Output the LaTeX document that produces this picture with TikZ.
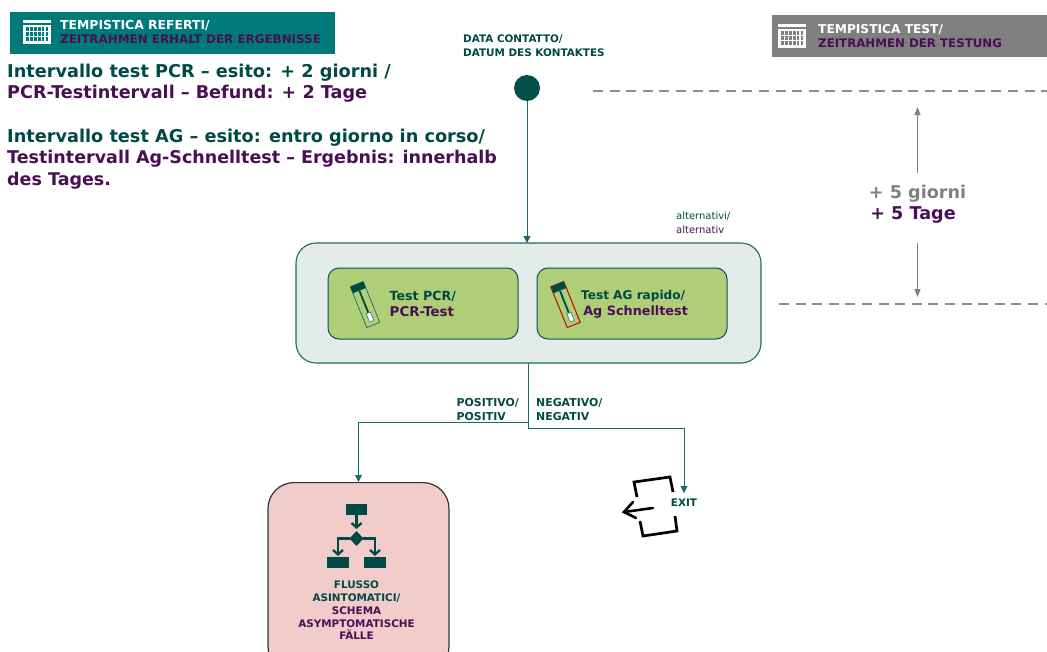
\documentclass[tikz,border=0pt]{standalone}
\usepackage{fontspec}
\setmainfont{DejaVu Sans}[BoldFont={DejaVu Sans Bold}]
\usetikzlibrary{arrows.meta}
\definecolor{dteal}{HTML}{004A45}
\definecolor{mteal}{HTML}{007A78}
\definecolor{lineteal}{HTML}{1B6B69}
\definecolor{dpurple}{HTML}{4A0E55}
\definecolor{gfill}{HTML}{AFCE78}
\definecolor{panel}{HTML}{E4ECEA}
\definecolor{pinkf}{HTML}{F2CBCB}
\definecolor{gbar}{HTML}{7F7F7F}
\newcommand{\fs}[1]{\fontsize{#1}{#1}\selectfont}
\newcommand{\calicon}[3]{%
 \begin{scope}[shift={(#1,#2)}]
  \fill[white] (0,0) rectangle (28,3);
  \fill[white] (0,5) rectangle (28,24);
  \foreach \i in {0,...,5}{\foreach \j in {0,1,2}{
    \fill[#3] (3+\i*3.9,7+\j*5.2) rectangle ++(2.8,4);}}
 \end{scope}}
\newcommand{\tube}[4]{%
 \begin{scope}[shift={(#1,#2)},rotate=22]
  \draw[#3,line width=#4,fill=gfill] (-7,-2) rectangle (7,42);
  \fill[dteal] (-7,-2) rectangle (7,5);
  \draw[dteal,line width=1.8pt] (0,5) -- (0,29);
  \fill[white,draw=lineteal,line width=.5pt] (-2.2,29) rectangle (2.2,38);
 \end{scope}}
\tikzset{
 x=1pt,y=-1pt,
 lab/.style={align=left,anchor=west,inner sep=0,font=\bfseries\fs{#1}},
 clab/.style={align=center,inner sep=0,font=\bfseries\fs{#1}},
 conn/.style={draw=lineteal,line width=.9pt,-{Triangle[length=7pt,width=7pt]}},
 gconn/.style={draw=gray,line width=.8pt,-{Triangle[length=8pt,width=6pt]}},
 dashline/.style={draw=gray!90,line width=1.6pt,dash pattern=on 10pt off 6.6pt},
 testbox/.style={draw=dteal!80!mteal,line width=1pt,fill=gfill,rounded corners=11pt,minimum width=190pt,minimum height=71pt,inner sep=0},
}
\begin{document}
\begin{tikzpicture}
\useasboundingbox (0,0) rectangle (1047,651);
\clip (0,0) rectangle (1047,651);
% headers
\node[fill=mteal,minimum width=325pt,minimum height=42pt,inner sep=0] (hl) at (172.5,33) {};
\calicon{23}{20}{mteal}
\node[lab=11.9] (hlt) at (60,32) {{\color{white}\fs{12.4}TEMPISTICA REFERTI/}\\[1.8pt]{\color{dpurple}ZEITRAHMEN ERHALT DER ERGEBNISSE}};
\node[fill=gbar,minimum width=275pt,minimum height=42pt,inner sep=0] (hr) at (909.5,36) {};
\calicon{778}{24}{gbar}
\node[lab=11.9] (hrt) at (818,36) {{\color{white}\fs{12.2}TEMPISTICA TEST/}\\[1.8pt]{\color{dpurple}\fs{11.8}ZEITRAHMEN DER TESTUNG}};
% left text
\node[lab=17.6] (t1) at (7,83.5) {{\color{dteal}\fs{17.7}Intervallo test PCR – esito: + 2 giorni /}\\[3.6pt]{\color{dpurple}PCR-Testintervall – Befund: + 2 Tage}};
\node[lab=17.5] (t2) at (7,159) {{\color{dteal}\fs{17.7}Intervallo test AG – esito: entro giorno in corso/}\\[3.9pt]{\color{dpurple}Testintervall Ag-Schnelltest – Ergebnis: innerhalb}\\[3.9pt]{\color{dpurple}des Tages.}};
% top
\node[lab=10.4] (dc) at (463,46) {{\color{dteal}DATA CONTATTO/}\\[3.4pt]{\color{dteal}DATUM DES KONTAKTES}};
\node[circle,fill=dteal!90!mteal,minimum size=26pt,inner sep=0] (dot) at (527,88) {};
% panel
\node[draw=lineteal,line width=1.1pt,fill=panel,rounded corners=20pt,minimum width=465pt,minimum height=120pt,inner sep=0] (panel) at (528.5,303) {};
\node[align=left,anchor=west,inner sep=0,font=\fs{10}] (alt) at (676,223) {{\color{dteal}alternativi/}\\[3.6pt]{\color{dpurple}alternativ}};
\node[testbox] (pcr) at (423,303.5) {};
\node[testbox] (ag) at (632,303.5) {};
\tube{357.5}{286}{lineteal}{.7pt}
\tube{558}{286}{red!80!black}{1pt}
\node[lab=12.6] (pcrt) at (389.5,304) {{\color{dteal}Test PCR/}\\[2.8pt]{\color{dpurple}\fs{13.4}PCR-Test}};
\node[lab=12.1] (agt) at (581,304) {{\color{dteal}Test AG rapido/}\\[3.2pt]{\color{dpurple}\fs{12.8}\,Ag Schnelltest}};
% lower
\coordinate (j1) at (528,422);
\coordinate (j2) at (528,428);
\node[draw=black!80,line width=1.2pt,fill=pinkf,rounded corners=26pt,minimum width=181pt,minimum height=190pt,inner sep=0,anchor=north] (pink) at (358.5,482) {};
\node[inner sep=0,font=\bfseries\fs{10.4}] (exit) at (684,503) {\color{dteal}EXIT};
\draw[conn] (dot) -- (527,243);
\draw[draw=lineteal,line width=.9pt] (528,363) -- (j2);
\draw[conn] (j1) -| (pink.north);
\draw[conn,shorten >=6pt] (j2) -| (exit.north);
\node[lab=10.9] (pos) at (456.5,409.5) {{\color{dteal}POSITIVO/}\\[2.8pt]{\color{dteal}POSITIV}};
\node[lab=10.9] (neg) at (536,409.5) {{\color{dteal}NEGATIVO/}\\[2.8pt]{\color{dteal}NEGATIV}};
% flow icon
\begin{scope}[dteal]
 \fill (346,504) rectangle (367,515);
 \fill (356.5,531) -- ++(7,7.5) -- ++(-7,7.5) -- ++(-7,-7.5) -- cycle;
 \fill (327,557) rectangle (349,568);
 \fill (364,557) rectangle (386,568);
 \draw[line width=2.3pt,-{Straight Barb[length=4.5pt,width=10pt]}] (356.5,515) -- (356.5,529);
 \draw[line width=2.3pt,-{Straight Barb[length=4.5pt,width=10pt]}] (350,538.5) -- (338,538.5) -- (338,556);
 \draw[line width=2.3pt,-{Straight Barb[length=4.5pt,width=10pt]}] (363,538.5) -- (375,538.5) -- (375,556);
\end{scope}
\node[clab=10.4] (ft) at (356.5,610.5) {{\color{dteal}FLUSSO}\\[2.4pt]{\color{dteal}ASINTOMATICI/}\\[2.4pt]{\color{dpurple}SCHEMA}\\[2.4pt]{\color{dpurple}ASYMPTOMATISCHE}\\[2.4pt]{\color{dpurple}FÄLLE}};
% exit icon
\draw[black,line width=2.7pt] (637,497) -- (634,482) -- (670,477) -- (673,492);
\draw[black,line width=2.7pt] (640,521) -- (643,536) -- (677,531) -- (675,516);
\draw[black,line width=2.6pt,line cap=round] (653,508) -- (624,512);
\draw[black,line width=2.6pt,line cap=round] (633,502) -- (624,512) -- (636,518);
% right
\coordinate (d1a) at (593,91); \coordinate (d1b) at (1047,91);
\coordinate (d2a) at (779,304); \coordinate (d2b) at (1047,304);
\draw[dashline] (d1a) -- (d1b);
\draw[dashline] (d2a) -- (d2b);
\coordinate (a1s) at (917.5,173); \coordinate (a1e) at (917.5,107);
\coordinate (a2s) at (917.5,243); \coordinate (a2e) at (917.5,297);
\draw[gconn] (a1s) -- (a1e);
\draw[gconn] (a2s) -- (a2e);
\node[clab=17.6] (g) at (917.5,193.5) {\color{gray}+ 5 giorni};
\node[clab=17.6] (gt) at (913,214.5) {\color{dpurple}+ 5 Tage};
\end{tikzpicture}
\end{document}
